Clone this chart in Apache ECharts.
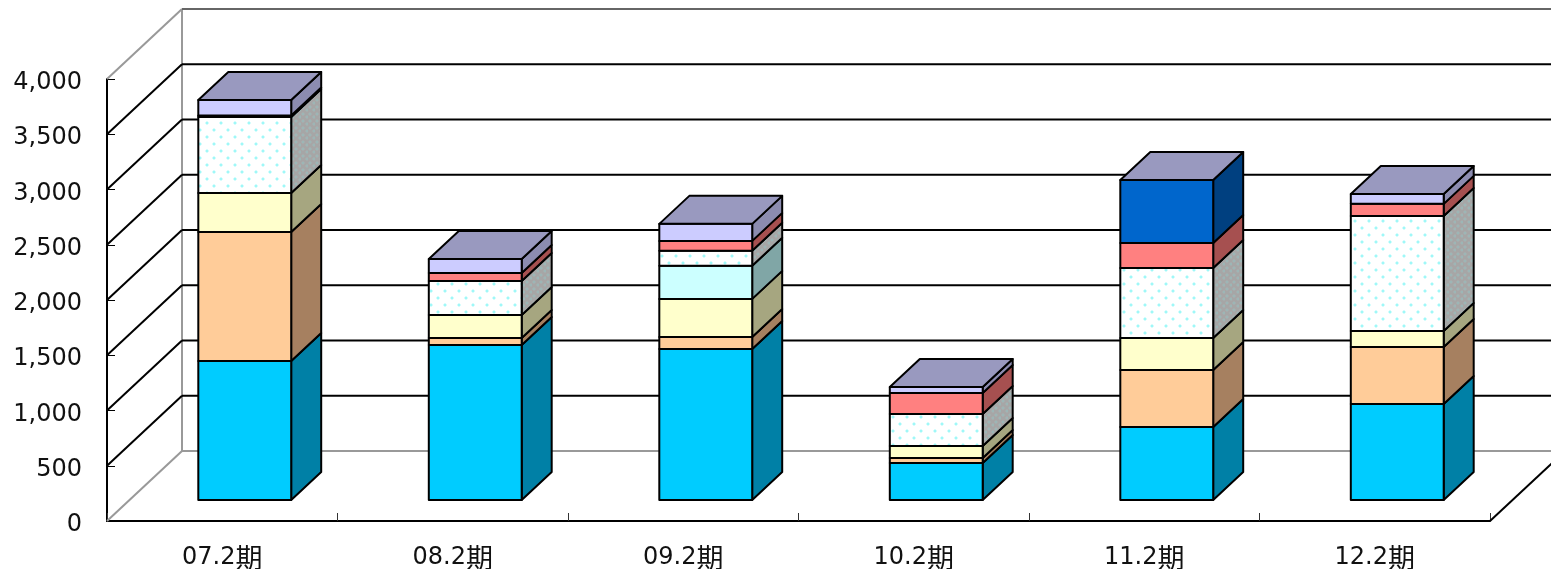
<!DOCTYPE html>
<html>
<head>
<meta charset="utf-8">
<style>html,body{margin:0;padding:0;background:#fff}#c{width:1551px;height:569px}</style>
<script src="https://cdn.jsdelivr.net/npm/echarts@6/dist/echarts.min.js"></script>
</head>
<body>
<div id="c"></div>
<script>
const categories = ['07.2期','08.2期','09.2期','10.2期','11.2期','12.2期'];
const yTicks = [0,500,1000,1500,2000,2500,3000,3500,4000];
const blue     = [1258,1403,1367,335,661,869];
const orange   = [1167,63,109,45,516,516];
const yellow   = [353,208,344,109,290,145];
const cyan     = [0,0,299,0,0,0];
const dots     = [688,308,136,290,633,1041];
const red      = [0,72,90,190,226,109];
const navy     = [14,0,0,0,570,0];
const lavender = [140,127,154,54,0,90];

function tile(bg, halo, dot, w, h, pts) {
  const c = document.createElement('canvas');
  c.width = w; c.height = h;
  const g = c.getContext('2d');
  g.fillStyle = bg; g.fillRect(0,0,w,h);
  pts.forEach(p => {
    g.fillStyle = halo; g.fillRect(p[0]-1,p[1],4,2); g.fillRect(p[0],p[1]-1,2,4);
    g.fillStyle = dot;  g.fillRect(p[0],p[1],2,2);
  });
  return {image:c, repeat:'repeat'};
}
const dotFront = tile('#ffffff','#d8fcfc','#9ff8f8',14,14,[[3,3],[10,10]]);
const dotSide  = tile('#a6a6a6','#a6acac','#9cb6b6',7,7,[[1,1],[5,4]]);

const layers = [
  {name:'blue',     values:blue,     front:'#00ccff', side:'#0080a6'},
  {name:'orange',   values:orange,   front:'#ffcc99', side:'#a68060'},
  {name:'yellow',   values:yellow,   front:'#ffffcc', side:'#a6a680'},
  {name:'cyan',     values:cyan,     front:'#ccffff', side:'#80a6a6'},
  {name:'dots',     values:dots,     front:dotFront,  side:dotSide},
  {name:'red',      values:red,      front:'#ff8080', side:'#a65050'},
  {name:'navy',     values:navy,     front:'#0066cc', side:'#004080'},
  {name:'lavender', values:lavender, front:'#ccccff', side:'#8c8cb0'}
];
const topColor = '#9999bf';
const DX = 75, DY = 70;          // depth of the 3D box
const nearF = 0.3, farF = 0.7;   // bar position inside the depth
const barFrac = 0.403;
const edge = {stroke:'#000', lineWidth:2, lineJoin:'round'};

function poly(points, fill) {
  return {type:'polygon', shape:{points}, style:Object.assign({fill}, edge)};
}
function line(x1,y1,x2,y2,color,w) {
  return {type:'line', shape:{x1,y1,x2,y2}, style:{stroke:color, lineWidth:w, fill:null}};
}

const series = [];

// walls and floor
series.push({
  type:'custom', coordinateSystem:'cartesian2d', silent:true, z:1,
  data:yTicks.map(v=>[0,v]),
  renderItem(params, api){
    const cs = params.coordSys;
    const v = api.value(1);
    const y = api.coord([0,v])[1];
    const light = (v===0 || v===4000);
    const col = v===0 ? '#999999' : (v===4000 ? '#666666' : '#000000');
    const left = cs.x, right = cs.x+cs.width;
    const kids = [
      line(left,y,left+DX,y-DY, light?'#999999':'#000', 2),
      line(left+DX,y-DY,right+DX,y-DY,col,2)
    ];
    if(v===0){
      kids.push(line(left+DX,y-DY,left+DX,cs.y-DY,'#999999',2));
      kids.push(line(right,y,right+DX,y-DY,'#000',2));
    }
    return {type:'group', children:kids};
  }
});

// bars
layers.forEach((layer, li)=>{
  series.push({
    type:'custom', coordinateSystem:'cartesian2d', silent:true, z:5+li,
    name:layer.name,
    data:layer.values.map((val,i)=>{
      let base = 0;
      for(let k=0;k<li;k++) base += layers[k].values[i];
      return [i, base, base+val];
    }),
    encode:{x:0, y:[1,2]},
    renderItem(params, api){
      const i = api.value(0), lo = api.value(1), hi = api.value(2);
      const w = api.size([1,0])[0]*barFrac;
      const a = api.coord([i,lo]), b = api.coord([i,hi]);
      const x0 = a[0]+DX*nearF-w/2, x1 = x0+w;
      const ny = DY*nearF, ox = DX*(farF-nearF), oy = DY*(farF-nearF);
      const yl = a[1]-ny, yh = b[1]-ny;
      const kids = [];
      if(hi>lo){
        kids.push(poly([[x1,yl],[x1+ox,yl-oy],[x1+ox,yh-oy],[x1,yh]], layer.side));
        kids.push(poly([[x0,yl],[x1,yl],[x1,yh],[x0,yh]], layer.front));
      }
      if(li===layers.length-1){
        kids.push(poly([[x0,yh],[x1,yh],[x1+ox,yh-oy],[x0+ox,yh-oy]], topColor));
      }
      return {type:'group', children:kids};
    }
  });
});

const labelFont = '"DejaVu Sans","Noto Sans CJK JP",sans-serif';
const chart = echarts.init(document.getElementById('c'), null, {renderer:'canvas'});
chart.setOption({
  animation:false,
  backgroundColor:'#ffffff',
  grid:{left:107, right:61, top:79, bottom:48, outerBoundsMode:'none', containLabel:false},
  xAxis:{
    type:'category', data:categories, boundaryGap:true,
    axisLine:{show:true, onZero:false, lineStyle:{color:'#000', width:2}},
    axisTick:{show:true, inside:true, length:8, alignWithLabel:false, lineStyle:{color:'#333', width:1}},
    axisLabel:{
      color:'#111', fontSize:24, margin:23, interval:0, fontFamily:labelFont,
      formatter:s=>'{n|'+s.slice(0,-1)+'}{k|'+s.slice(-1)+'}',
      rich:{
        n:{fontSize:24, color:'#111', fontFamily:labelFont},
        k:{fontSize:27, color:'#111', fontFamily:'"Noto Sans CJK JP",sans-serif'}
      }
    }
  },
  yAxis:{
    type:'value', min:0, max:4000, interval:500,
    splitLine:{show:false},
    axisLine:{show:true, lineStyle:{color:'#000', width:2}},
    axisTick:{show:true, inside:true, length:8, lineStyle:{color:'#000', width:1}},
    axisLabel:{color:'#111', fontSize:24, margin:25, fontFamily:labelFont, verticalAlign:'top', lineHeight:8,
      formatter:v=>v.toLocaleString('en-US')}
  },
  series
});
</script>
</body>
</html>
